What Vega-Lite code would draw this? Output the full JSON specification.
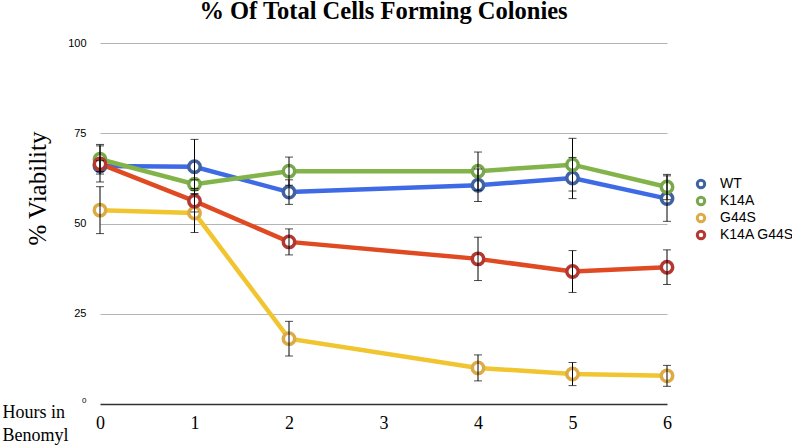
{
  "$schema": "https://vega.github.io/schema/vega-lite/v6.json",
  "width": 567,
  "height": 361,
  "autosize": {"type": "none"},
  "padding": {"left": 100, "top": 43, "right": 125, "bottom": 41},
  "background": "white",
  "title": {
    "text": "% Of Total Cells Forming Colonies",
    "font": "Liberation Serif",
    "fontSize": 24.5,
    "fontWeight": "bold",
    "color": "black",
    "anchor": "middle",
    "baseline": "alphabetic",
    "offset": 2,
    "dy": 8
  },
  "config": {
    "view": {"stroke": null},
    "axis": {"labelColor": "black", "titleColor": "black"}
  },
  "data": {
    "values": [
      {"hours": 0, "strain": "WT", "viability": 65.9, "err": 1.5},
      {"hours": 1, "strain": "WT", "viability": 65.7, "err": 7.6},
      {"hours": 2, "strain": "WT", "viability": 58.7, "err": 3.4},
      {"hours": 4, "strain": "WT", "viability": 60.6, "err": 4.5},
      {"hours": 5, "strain": "WT", "viability": 62.6, "err": 5.7},
      {"hours": 6, "strain": "WT", "viability": 56.9, "err": 6.3},
      {"hours": 0, "strain": "K14A", "viability": 67.8, "err": 4.1},
      {"hours": 1, "strain": "K14A", "viability": 60.9, "err": 1.2},
      {"hours": 2, "strain": "K14A", "viability": 64.5, "err": 3.9},
      {"hours": 4, "strain": "K14A", "viability": 64.5, "err": 5.3},
      {"hours": 5, "strain": "K14A", "viability": 66.3, "err": 7.3},
      {"hours": 6, "strain": "K14A", "viability": 60.1, "err": 3.5},
      {"hours": 0, "strain": "G44S", "viability": 53.7, "err": 6.5},
      {"hours": 1, "strain": "G44S", "viability": 52.9, "err": 5.4},
      {"hours": 2, "strain": "G44S", "viability": 18.1, "err": 4.8},
      {"hours": 4, "strain": "G44S", "viability": 10.0, "err": 3.6},
      {"hours": 5, "strain": "G44S", "viability": 8.3, "err": 3.2},
      {"hours": 6, "strain": "G44S", "viability": 7.8, "err": 2.9},
      {"hours": 0, "strain": "K14A G44S", "viability": 66.5, "err": 5.0},
      {"hours": 1, "strain": "K14A G44S", "viability": 56.2, "err": 3.0},
      {"hours": 2, "strain": "K14A G44S", "viability": 44.9, "err": 3.6},
      {"hours": 4, "strain": "K14A G44S", "viability": 40.2, "err": 6.0},
      {"hours": 5, "strain": "K14A G44S", "viability": 36.7, "err": 5.8},
      {"hours": 6, "strain": "K14A G44S", "viability": 37.9, "err": 4.8}
    ]
  },
  "encoding": {
    "x": {
      "field": "hours",
      "type": "quantitative",
      "scale": {"domain": [0, 6], "nice": false, "zero": false},
      "axis": {
        "values": [0, 1, 2, 3, 4, 5, 6],
        "grid": false,
        "ticks": false,
        "domainColor": "#333333",
        "domainWidth": 1.5,
        "labelFont": "Liberation Serif",
        "labelFontSize": 18,
        "labelPadding": 10,
        "labelBaseline": "top",
        "labelFlush": false,
        "title": ["Hours in", "Benomyl"],
        "titleFont": "Liberation Serif",
        "titleFontSize": 18,
        "titleFontWeight": "normal",
        "titleAnchor": "start",
        "titleAlign": "left",
        "titleBaseline": "alphabetic",
        "titleLineHeight": 23,
        "titleX": -98,
        "titleY": 13
      }
    },
    "y": {
      "field": "viability",
      "type": "quantitative",
      "scale": {"domain": [0, 100], "nice": false},
      "axis": {
        "values": [0, 25, 50, 75, 100],
        "domain": false,
        "ticks": false,
        "gridColor": {"condition": {"test": "datum.value === 0", "value": "transparent"}, "value": "#b4b4b4"},
        "gridWidth": 1,
        "labelFont": "Liberation Sans",
        "labelFontSize": {"condition": {"test": "datum.value === 0", "value": 8}, "value": 11},
        "labelBaseline": {"condition": {"test": "datum.value === 0", "value": "bottom"}, "value": "middle"},
        "labelPadding": 14,
        "title": "% Viability",
        "titleFont": "Liberation Serif",
        "titleFontSize": 25,
        "titleFontWeight": "normal",
        "titleAngle": -90,
        "titleAlign": "center",
        "titleBaseline": "middle",
        "titleX": -63,
        "titleY": 145
      }
    }
  },
  "layer": [
    {
      "mark": {"type": "line", "strokeWidth": 4.5},
      "encoding": {
        "color": {
          "field": "strain",
          "type": "nominal",
          "scale": {
            "domain": ["WT", "K14A", "G44S", "K14A G44S"],
            "range": ["#3e6ae6", "#82b44a", "#f0c530", "#df4a23"]
          },
          "legend": null
        }
      }
    },
    {
      "mark": {"type": "point", "shape": "circle", "filled": false, "fill": "white", "fillOpacity": 1, "size": 130, "strokeWidth": 3.5, "opacity": 1},
      "encoding": {
        "stroke": {
          "field": "strain",
          "type": "nominal",
          "scale": {
            "domain": ["WT", "K14A", "G44S", "K14A G44S"],
            "range": ["#40639f", "#78a84b", "#dcab48", "#b43830"]
          },
          "legend": {
            "title": null,
            "orient": "none",
            "legendX": 594,
            "legendY": 134,
            "symbolType": "circle",
            "symbolSize": 55,
            "symbolStrokeWidth": 3,
            "symbolFillColor": "white",
            "labelFont": "Liberation Sans",
            "labelFontSize": 14,
            "labelColor": "black",
            "rowPadding": -7,
            "labelOffset": 12
          }
        }
      }
    },
    {
      "mark": {"type": "errorbar", "color": "black", "thickness": 1, "ticks": {"size": 8, "thickness": 1, "color": "black"}},
      "encoding": {
        "yError": {"field": "err"}
      }
    }
  ],
  "resolve": {"scale": {"color": "independent", "stroke": "independent"}}
}
